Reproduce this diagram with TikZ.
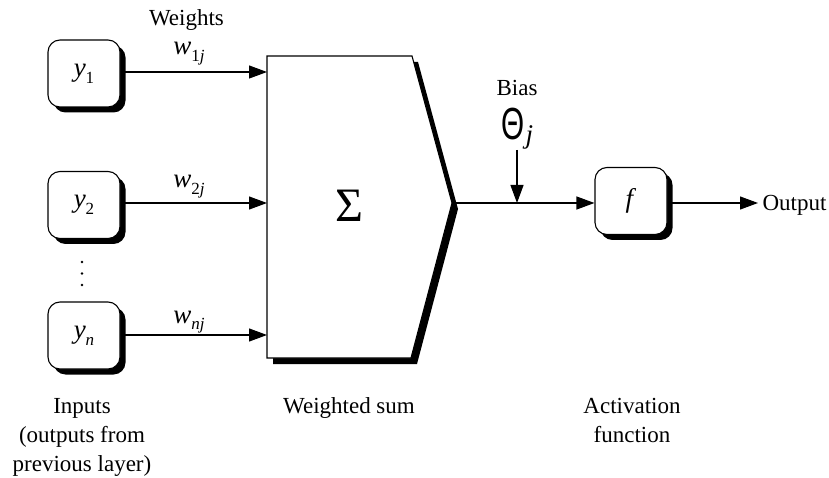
\documentclass[tikz,border=0pt]{standalone}
\usepackage{fontspec}
\setmainfont{Liberation Serif}
\newfontfamily\thetafont{Liberation Sans}
\usetikzlibrary{arrows.meta,shadows}
\newcommand\mv[1]{{\fontsize{27}{27}\selectfont\textit{#1}}}
\newcommand\sbs[1]{\raisebox{-0.3em}{\fontsize{17}{17}\selectfont #1}}
\begin{document}
\begin{tikzpicture}[x=1pt,y=-1pt,
  line width=1.1pt,
  every node/.style={font=\fontsize{23}{29}\selectfont},
  inbox/.style={draw, fill=white, rounded corners=12pt, minimum width=72pt, minimum height=67pt, inner sep=0pt,
    general shadow={fill=black, shadow xshift=5.5pt, shadow yshift=-5.5pt}},
  arr/.style={-{Triangle[length=18pt,width=13pt]}},
  lbl/.style={align=center, anchor=base},
  dot/.style={fill=black, circle, inner sep=0pt, minimum size=2.6pt},
]
\useasboundingbox (0,0) rectangle (829,478);

% inputs
\node[inbox] (y1) at (84,73.5) {\mv{y}\sbs{1}};
\node[inbox] (y2) at (84,205) {\mv{y}\sbs{2}};
\node[inbox] (yn) at (84,335.5) {\mv{y}\sbs{\textit{n}}};
\node[dot] (d1) at (82,262) {};
\node[dot] (d2) at (82,273.5) {};
\node[dot] (d3) at (82,285) {};

% summation block
\coordinate (s1) at (267,72);
\coordinate (s2) at (267,203);
\coordinate (sn) at (267,335);
\coordinate (sp) at (452,203);
\fill[black] (273,62) -- (418,62) -- (458,209) -- (417,364) -- (273,364) -- cycle;
\draw[fill=white] (267,56) -- (412,56) -- (sp) -- (411,358) -- (267,358) -- cycle;
\node (sigma) at (349,206) {\fontsize{48}{48}\selectfont Σ};

% weights
\draw[arr] (y1.east |- s1) -- (s1);
\draw[arr] (y2.east |- s2) -- (s2);
\draw[arr] (yn.east |- sn) -- (sn);
\node[lbl] (wt) at (186.5,26) {Weights};
\node[lbl] (w1) at (189,55) {\mv{w}\sbs{1\textit{j}}};
\node[lbl] (w2) at (189,188) {\mv{w}\sbs{2\textit{j}}};
\node[lbl] (wn) at (189,323) {\mv{w}\sbs{\textit{nj}}};

% activation
\node[inbox] (f) at (631,201) {\mv{f}};
\coordinate (join) at (517,203);
\draw (sp) -- (join);
\draw[arr] (join) -- (f.west |- join);
\node[lbl] (bias) at (517,96) {Bias};
\node[anchor=base, inner sep=0pt] (th) at (513,140) {\scalebox{0.66}[1]{\fontsize{45}{45}\thetafont Θ}};
\node[anchor=base west, inner sep=0pt] (thj) at (525,144) {\mv{j}};
\coordinate (btop) at (517,150);
\draw[arr] (btop) -- (join);
\coordinate (oend) at (758,203);
\draw[arr] (f.east |- oend) -- (oend);
\node[anchor=base west, inner sep=0pt] (out) at (762,211) {Output};

% captions
\node[lbl] (c1) at (82,471) {Inputs\\(outputs from\\previous layer)};
\node[lbl] (c2) at (349,413) {Weighted sum};
\node[lbl] (c3) at (632,442) {Activation\\function};
\end{tikzpicture}
\end{document}
